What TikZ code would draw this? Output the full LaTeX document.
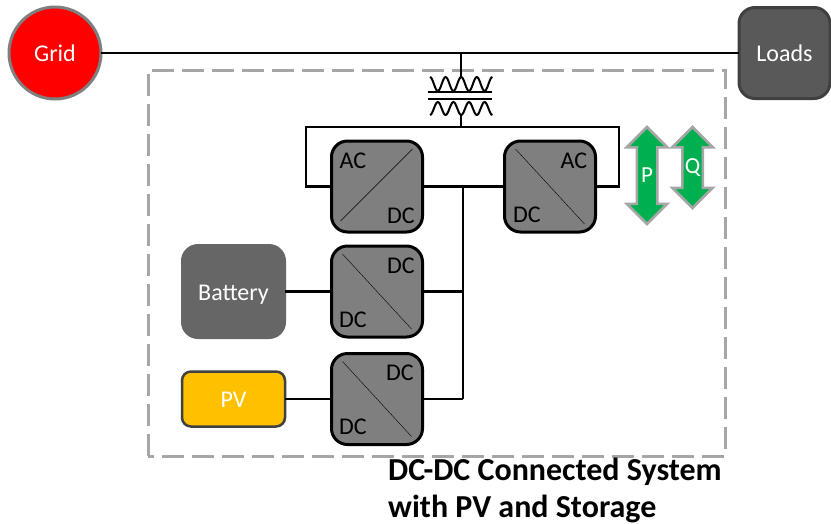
\documentclass[tikz,border=0pt]{standalone}
\usepackage{xcolor}
\usepackage{fontspec}
\setmainfont{Carlito}
\usetikzlibrary{positioning,arrows.meta,calc,shapes.arrows}
\definecolor{cGrid}{RGB}{255,0,0}
\definecolor{cPV}{RGB}{255,192,0}
\definecolor{cFlow}{RGB}{0,176,80}
\definecolor{cConv}{RGB}{127,127,127}
\definecolor{cBatt}{RGB}{102,102,102}
\definecolor{cLoad}{RGB}{89,89,89}
\definecolor{cEdge}{RGB}{166,166,166}

\begin{document}
\begin{tikzpicture}[x=1pt,y=-1pt,font=\fontsize{24}{28}\selectfont]
\tikzset{
  conv/.style={draw=black,line width=3pt,fill=cConv,rounded corners=16pt,minimum width=91pt,minimum height=91pt,outer sep=0pt},
  src/.style={rounded corners=16pt,minimum width=103pt,minimum height=93pt,fill=cBatt,draw=cBatt,line width=2pt,text=white,outer sep=0pt,text height=21pt,text depth=4pt},
  lab/.style={inner sep=0pt},
  wire/.style={line width=2.2pt},
  flow/.style={double arrow,shape border rotate=90,draw=cEdge,fill=cFlow,line width=2.5pt,text=white,minimum width=39pt,double arrow head extend=10pt,double arrow head indent=0pt,inner sep=0pt,text width=18pt,align=center,outer sep=0pt,font=\fontsize{23}{26}\selectfont}
}
\useasboundingbox (0,0) rectangle (831,523);
% container
\draw[cEdge,line width=3pt,dash pattern=on 22pt off 8pt] (148,456) -- (148,70) -- (725,70) -- (725,456) -- cycle;

% grid side
\node[circle,draw=cConv,line width=3pt,fill=cGrid,text=white,minimum size=92pt,inner sep=0pt,outer sep=0pt,text height=21pt,text depth=4pt] (grid) at (55,53) {Grid};
\node[src,fill=cLoad,draw=black!75,line width=3pt,minimum width=91pt,minimum height=91pt] (loads) at (784.5,53) {Loads};
\draw[wire] (grid)--(loads);

% transformer
\coordinate (tap) at (461,53);
\coordinate (xt) at (461,77);
\coordinate (xb) at (461,115);
\coordinate (busn) at (461,127);
\draw[line width=1.5pt] (428,92)--(492,92) (428,99)--(492,99);
\draw[line width=2pt] (430,77) \foreach \i in {0,...,3} {cos ++(3.9,7) sin ++(3.9,7) cos ++(3.9,-7) sin ++(3.9,-7)};
\draw[line width=2pt] (430,115) \foreach \i in {0,...,3} {cos ++(3.9,-6.5) sin ++(3.9,-6.5) cos ++(3.9,6.5) sin ++(3.9,6.5)};
\draw[wire] (tap)--(xt) (xb)--(busn);

% converters
\node[conv] (c1) at (377,186.5) {};
\node[conv] (c2) at (550,186.5) {};
\node[conv] (c3) at (377,291.5) {};
\node[conv] (c4) at (377,399) {};
\draw (c1.south west)++(9,-11) coordinate (c1a) (c1.north east)++(-10,8) coordinate (c1b);
\draw (c1a)--(c1b);
\draw (c2.north west)++(11,8) coordinate (c2a) (c2.south east)++(-11,-8) coordinate (c2b);
\draw (c2a)--(c2b);
\draw (c3.north west)++(11,8) coordinate (c3a) (c3.south east)++(-11,-8) coordinate (c3b);
\draw (c3a)--(c3b);
\draw (c4.north west)++(11,8) coordinate (c4a) (c4.south east)++(-11,-8) coordinate (c4b);
\draw (c4a)--(c4b);
\node[lab] (c1ac) at (353,161) {AC};
\node[lab] (c1dc) at (401,216) {DC};
\node[lab] (c2ac) at (574,161) {AC};
\node[lab] (c2dc) at (527,215) {DC};
\node[lab] (c3dc) at (401,266) {DC};
\node[lab] (c3dd) at (353,320) {DC};
\node[lab] (c4dc) at (400,373) {DC};
\node[lab] (c4dd) at (353,427) {DC};

% sources
\node[src] (batt) at (233.5,291.5) {Battery};
\node[src,fill=cPV,draw=black!75,line width=2.5pt,minimum height=55pt,rounded corners=9pt] (pv) at (233.5,399) {PV};

% buses
\draw[wire] (busn) -- (306,127) |- (c1);
\draw[wire] (busn) -- (619,127) |- (c2);
\draw[wire] (c1)--(c2);
\draw[wire] (463,186.5) coordinate (dcn) -- (463,399) coordinate (dcs);
\draw[wire] (c3)--(dcn |- c3);
\draw[wire] (c4)--(dcs);
\draw[wire] (batt)--(c3);
\draw[wire] (pv)--(c4);

% power flow
\node[flow,minimum height=97pt] (p) at (647,175.5) {P};
\node[flow,minimum height=81pt] (q) at (692.5,167.5) {Q};

\node[anchor=north west,align=left,inner sep=0pt,font=\fontsize{32}{37}\selectfont\bfseries] (title) at (388,457.5) {DC-DC Connected System\\with PV and Storage};
\end{tikzpicture}
\end{document}
